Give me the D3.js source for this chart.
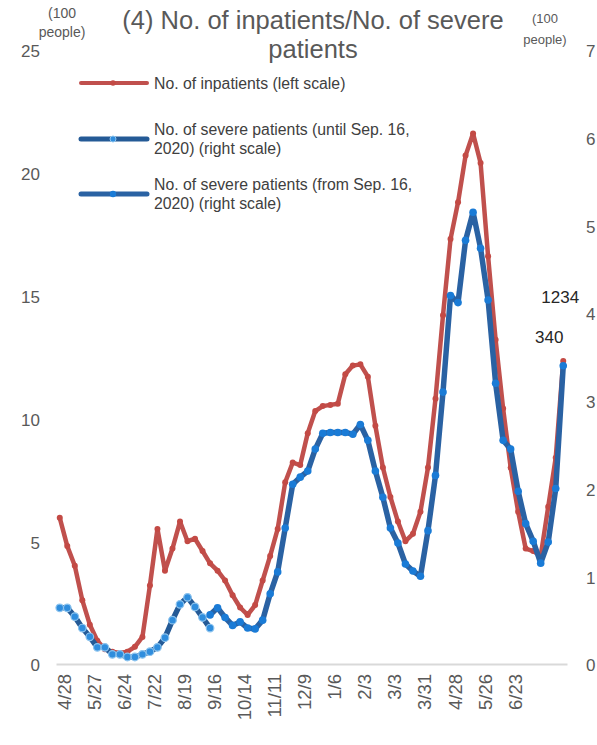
<!DOCTYPE html>
<html><head><meta charset="utf-8">
<script src="https://cdn.jsdelivr.net/npm/d3@7"></script>
<style>body{margin:0;background:#fff} svg{display:block}</style>
</head><body><svg id="c" width="597" height="745"></svg>
<script>
const categories = [
 "2020/4/28","2020/5/6","2020/5/13","2020/5/20","2020/5/27","2020/6/3","2020/6/10","2020/6/17",
 "2020/6/24","2020/7/1","2020/7/8","2020/7/15","2020/7/22","2020/7/29","2020/8/5","2020/8/12",
 "2020/8/19","2020/8/26","2020/9/2","2020/9/9","2020/9/16","2020/9/23","2020/9/30","2020/10/7",
 "2020/10/14","2020/10/21","2020/10/28","2020/11/4","2020/11/11","2020/11/18","2020/11/25","2020/12/2",
 "2020/12/9","2020/12/16","2020/12/23","2020/12/30","2021/1/6","2021/1/13","2021/1/20","2021/1/27",
 "2021/2/3","2021/2/10","2021/2/17","2021/2/24","2021/3/3","2021/3/10","2021/3/17","2021/3/24",
 "2021/3/31","2021/4/7","2021/4/14","2021/4/21","2021/4/28","2021/5/5","2021/5/12","2021/5/19",
 "2021/5/26","2021/6/2","2021/6/9","2021/6/16","2021/6/23","2021/6/30","2021/7/7","2021/7/14",
 "2021/7/21","2021/7/28","2021/8/4","2021/8/11"];
const xTickLabels = ["2020/4/28","2020/5/27","2020/6/24","2020/7/22","2020/8/19","2020/9/16","2020/10/14",
 "2020/11/11","2020/12/9","2021/1/6","2021/2/3","2021/3/3","2021/3/31","2021/4/28","2021/5/26","2021/6/23"];
// hundreds of people
const inpatients = [5.95,4.8,4.0,2.6,1.6,0.95,0.6,0.5,0.45,0.5,0.7,1.1,3.2,5.5,3.8,4.7,
 5.8,5.0,5.1,4.6,4.1,3.8,3.4,2.8,2.3,2.0,2.4,3.4,4.4,5.5,7.4,8.2,
 8.1,9.4,10.3,10.5,10.55,10.6,11.8,12.15,12.2,11.7,9.7,8.0,6.8,5.8,5.0,5.3,
 6.2,8.0,10.8,14.2,17.3,18.8,20.7,21.6,20.4,16.6,13.2,10.4,8.0,6.2,4.7,4.6,
 4.4,6.4,8.4,12.34];
const severeUntil = [0.64,0.64,0.54,0.41,0.31,0.19,0.19,0.11,0.11,0.08,0.08,0.11,0.14,0.19,0.3,0.5,
 0.68,0.76,0.65,0.53,0.41];
const severeFrom = [0.56,0.64,0.53,0.44,0.48,0.41,0.40,0.50,0.80,1.05,1.55,2.05,2.13,2.2,2.45,2.63,
 2.64,2.64,2.64,2.62,2.73,2.55,2.2,1.9,1.55,1.38,1.14,1.06,1.0,1.52,2.15,3.1,
 4.2,4.12,4.83,5.15,4.74,4.15,3.2,2.55,2.45,1.97,1.6,1.4,1.15,1.39,2.0,3.40];
const severeFromStart = 20; // index of 2020/9/16
const leftTicks = [0,5,10,15,20,25];
const rightTicks = [0,1,2,3,4,5,6,7];
const titleLines = ["(4) No. of inpatients/No. of severe", "patients"];
const unitLabel = ["(100", "people)"];
const legendLabels = [
  ["No. of inpatients (left scale)"],
  ["No. of severe patients (until Sep. 16,", "2020) (right scale)"],
  ["No. of severe patients (from Sep. 16,", "2020) (right scale)"]
];

const svg = d3.select("#c");
const FONT = "'Liberation Sans', Arial, sans-serif";
const RED = "#c0504d";

const x = d3.scalePoint().domain(categories).range([56, 567]).padding(0.5);
const yL = d3.scaleLinear().domain([0, 25]).range([664, 50]);
const yR = d3.scaleLinear().domain([0, 7]).range([664, 50]);

// title
svg.append("g").selectAll("text").data(titleLines).join("text")
  .attr("x", 313).attr("y", (d, i) => 29 + i * 29)
  .attr("text-anchor", "middle").attr("font-family", FONT).attr("font-size", 25.5)
  .attr("fill", "#595959").text(d => d);

// unit labels
svg.append("g").selectAll("text").data(unitLabel).join("text")
  .attr("x", 62).attr("y", (d, i) => 18 + i * 19)
  .attr("text-anchor", "middle").attr("font-family", FONT).attr("font-size", 14)
  .attr("fill", "#595959").text(d => d);
svg.append("g").selectAll("text").data(unitLabel).join("text")
  .attr("x", 545).attr("y", (d, i) => 23 + i * 21)
  .attr("text-anchor", "middle").attr("font-family", FONT).attr("font-size", 13)
  .attr("fill", "#595959").text(d => d);

// left axis
const gl = svg.append("g").attr("transform", "translate(40,0)")
  .call(d3.axisLeft(yL).tickValues(leftTicks).tickFormat(d3.format("d")).tickSize(0).tickPadding(0));
gl.select(".domain").remove();
gl.selectAll("text").attr("font-family", FONT).attr("font-size", 17).attr("fill", "#595959").attr("dy", "0.4em");

// right axis
const gr = svg.append("g").attr("transform", "translate(584,0)")
  .call(d3.axisRight(yR).tickValues(rightTicks).tickFormat(d3.format("d")).tickSize(0).tickPadding(2));
gr.select(".domain").remove();
gr.selectAll("text").attr("font-family", FONT).attr("font-size", 17).attr("fill", "#595959").attr("dy", "0.4em");

// bottom axis
const gb = svg.append("g").attr("transform", "translate(0,664)")
  .call(d3.axisBottom(x).tickValues(xTickLabels).tickSize(0).tickSizeOuter(0)
    .tickFormat(d => d.slice(5)));
gb.select(".domain").attr("stroke", "#d9d9d9").attr("stroke-width", 2);
gb.selectAll("text").attr("font-family", FONT).attr("font-size", 18.5).attr("fill", "#595959")
  .attr("transform", "rotate(-90)").attr("text-anchor", "end")
  .attr("x", -10).attr("y", 4).attr("dy", "0.35em");

// series
const redPts = inpatients.map((v, i) => [x(categories[i]), yL(v)]);
const untilPts = severeUntil.map((v, i) => [x(categories[i]), yR(v)]);
const fromPts = severeFrom.map((v, i) => [x(categories[i + severeFromStart]), yR(v)]);
const line = d3.line();

svg.append("path").attr("d", line(redPts)).attr("fill", "none").attr("stroke", RED)
  .attr("stroke-width", 4.5).attr("stroke-linejoin", "round").attr("stroke-linecap", "round");
svg.append("g").selectAll("circle").data(redPts).join("circle")
  .attr("cx", d => d[0]).attr("cy", d => d[1]).attr("r", 3).attr("fill", "#c34a45");

svg.append("path").attr("d", line(untilPts)).attr("fill", "none").attr("stroke", "#245a96")
  .attr("stroke-width", 5.5).attr("stroke-linejoin", "round").attr("stroke-linecap", "round");
svg.append("g").selectAll("circle").data(untilPts).join("circle")
  .attr("cx", d => d[0]).attr("cy", d => d[1]).attr("r", 3.8).attr("fill", "#2f8ddd")
  .attr("stroke", "#8cc3ee").attr("stroke-width", 1.2);

svg.append("path").attr("d", line(fromPts)).attr("fill", "none").attr("stroke", "#2a62a3")
  .attr("stroke-width", 5.5).attr("stroke-linejoin", "round").attr("stroke-linecap", "round");
svg.append("g").selectAll("circle").data(fromPts).join("circle")
  .attr("cx", d => d[0]).attr("cy", d => d[1]).attr("r", 3.8).attr("fill", "#1a7bd6");

// end labels
const lastRed = redPts[redPts.length - 1];
const lastBlue = fromPts[fromPts.length - 1];
svg.append("text").attr("x", lastRed[0] - 3).attr("y", lastRed[1] - 64).attr("dy", "0.35em")
  .attr("text-anchor", "middle").attr("font-family", FONT).attr("font-size", 17).attr("fill", "#262626")
  .text(Math.round(inpatients[inpatients.length - 1] * 100));
svg.append("text").attr("x", lastBlue[0] - 14).attr("y", lastBlue[1] - 29).attr("dy", "0.35em")
  .attr("text-anchor", "middle").attr("font-family", FONT).attr("font-size", 17).attr("fill", "#262626")
  .text(Math.round(severeFrom[severeFrom.length - 1] * 100));

// legend
const legendStyles = [
  {y: 83, stroke: RED, w: 4, fill: "#c34a45", r: 2.8, ring: null},
  {y: 139, stroke: "#245a96", w: 5, fill: "#2f8ddd", r: 3, ring: "#8cc3ee"},
  {y: 194, stroke: "#2a62a3", w: 5, fill: "#1a7bd6", r: 3.2, ring: null}
];
const lg = svg.append("g");
legendLabels.forEach((lines, i) => {
  const s = legendStyles[i];
  lg.append("line").attr("x1", 81).attr("x2", 147).attr("y1", s.y).attr("y2", s.y)
    .attr("stroke", s.stroke).attr("stroke-width", s.w).attr("stroke-linecap", "round");
  lg.append("circle").attr("cx", 113).attr("cy", s.y).attr("r", s.r).attr("fill", s.fill)
    .attr("stroke", s.ring || "none").attr("stroke-width", 1);
  const n = lines.length;
  lines.forEach((t, j) => {
    lg.append("text").attr("x", 154).attr("y", s.y + (j - (n - 1) / 2) * 19).attr("dy", "0.35em")
      .attr("font-family", FONT).attr("font-size", 15.8).attr("fill", "#404040").text(t);
  });
});
</script></body></html>
